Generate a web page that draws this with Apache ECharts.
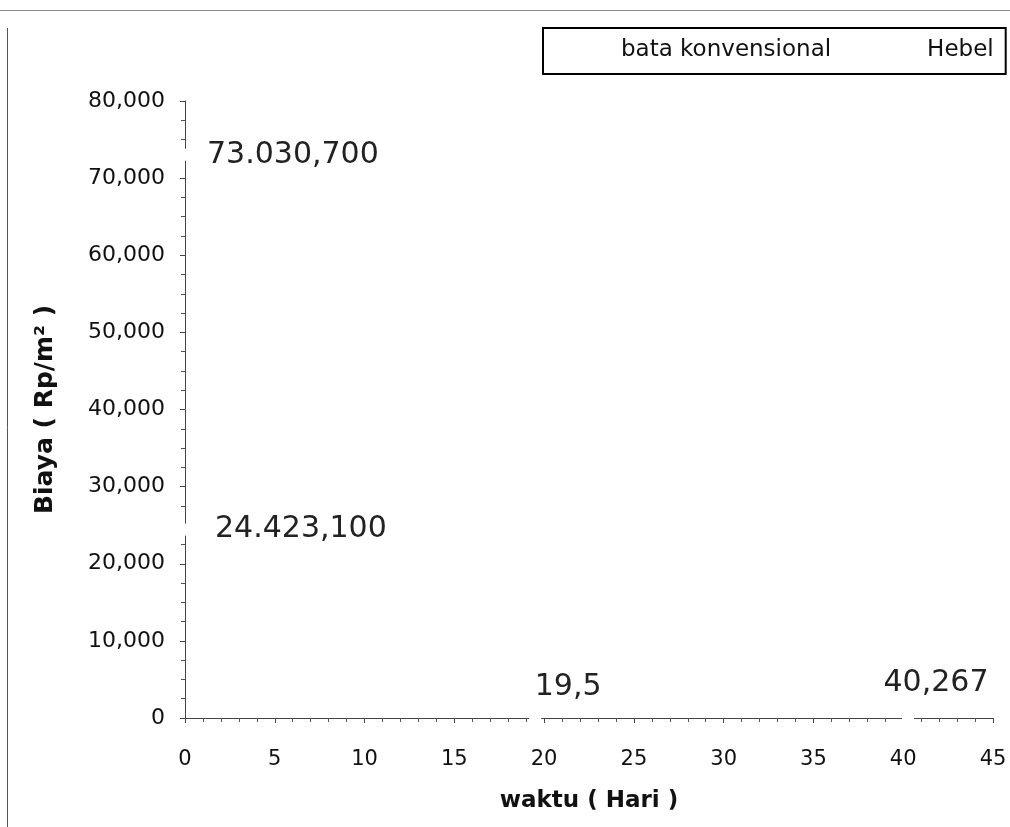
<!DOCTYPE html>
<html>
<head>
<meta charset="utf-8">
<script src="https://cdn.jsdelivr.net/npm/echarts@6/dist/echarts.min.js"></script>
<style>
html,body{margin:0;padding:0;background:#fff;}
#chart{width:1010px;height:827px;}
</style>
</head>
<body>
<div id="chart"></div>
<script>
// ---- data ----
var seriesNames = ['bata konvensional', 'Hebel'];
var bataDays = [0, 40.267];
var bataCost = [73030.7, 0];
var hebelDays = [0, 19.5];
var hebelCost = [24423.1, 0];
var yTicks = [0, 10000, 20000, 30000, 40000, 50000, 60000, 70000, 80000];
var xTicks = [0, 5, 10, 15, 20, 25, 30, 35, 40, 45];

function fmtThousands(v) {
  return String(v).replace(/\B(?=(\d{3})+(?!\d))/g, ',');
}
function fmtId(v, dec) {
  var s = v.toFixed(dec).split('.');
  var ip = s[0].replace(/\B(?=(\d{3})+(?!\d))/g, '.');
  return dec ? ip + ',' + s[1] : ip;
}
function fmtDay(v) { return String(v).replace('.', ','); }

var FONT = 'DejaVu Sans';

function buildData(xs, ys, yLabelDist, xLabelOffset) {
  return xs.map(function (x, i) {
    var y = ys[i];
    var isYIntercept = (x === 0);
    return {
      value: [x, y],
      label: isYIntercept ? {
        show: true, position: 'right', distance: yLabelDist,
        formatter: fmtId(y, 3)
      } : {
        show: true, position: 'inside', offset: xLabelOffset,
        formatter: fmtDay(x)
      }
    };
  });
}

var chart = echarts.init(document.getElementById('chart'), null, {renderer: 'canvas'});
var labelStyle = {fontFamily: FONT, fontSize: 30, color: '#222', fontWeight: 'normal'};

var option = {
  backgroundColor: '#ffffff',
  animation: false,
  grid: {left: 185, right: 17, top: 101, bottom: 109, containLabel: false},
  legend: {
    data: seriesNames,
    left: 543, top: 28,
    padding: [11, 12, 12, 50],
    itemWidth: 22, itemHeight: 14, itemGap: 68,
    borderColor: '#000', borderWidth: 2,
    textStyle: {fontFamily: FONT, fontSize: 23, color: '#111'}
  },
  xAxis: {
    type: 'value', min: xTicks[0], max: xTicks[xTicks.length - 1], interval: 5,
    axisLine: {show: true, lineStyle: {color: '#444', width: 1}},
    axisTick: {show: true, length: 5, lineStyle: {color: '#444'}},
    minorTick: {show: true, splitNumber: 5, length: 4, lineStyle: {color: '#555'}},
    splitLine: {show: false},
    axisLabel: {margin: 31, fontFamily: FONT, fontSize: 21, color: '#111'},
    name: 'waktu ( Hari )', nameLocation: 'middle', nameGap: 72,
    nameTextStyle: {fontFamily: FONT, fontSize: 23, fontWeight: 'bold', color: '#111'}
  },
  yAxis: {
    type: 'value', min: yTicks[0], max: yTicks[yTicks.length - 1], interval: 10000,
    axisLine: {show: true, lineStyle: {color: '#444', width: 1}},
    axisTick: {show: true, length: 5, lineStyle: {color: '#444'}},
    minorTick: {show: true, splitNumber: 4, length: 4, lineStyle: {color: '#555'}},
    splitLine: {show: false},
    axisLabel: {margin: 20, fontFamily: FONT, fontSize: 22, color: '#111',
      formatter: function (v) { return fmtThousands(v); }},
    name: 'Biaya ( Rp/m\u00B2 )', nameLocation: 'middle', nameGap: 127, nameRotate: 90,
    nameTextStyle: {fontFamily: FONT, fontSize: 25, fontWeight: 'bold', color: '#111'}
  },
  series: [
    {
      name: seriesNames[0], type: 'line',
      data: buildData(bataDays, bataCost, 16, [28, -35]),
      color: '#ffffff',
      symbol: 'rect', symbolSize: 12, showSymbol: true,
      itemStyle: {color: '#ffffff', borderWidth: 0},
      lineStyle: {color: '#ffffff', width: 1, opacity: 0},
      label: labelStyle, z: 5
    },
    {
      name: seriesNames[1], type: 'line',
      data: buildData(hebelDays, hebelCost, 24, [33, -31]),
      color: '#ffffff',
      symbol: 'rect', symbolSize: 12, showSymbol: true,
      itemStyle: {color: '#ffffff', borderWidth: 0},
      lineStyle: {color: '#ffffff', width: 1, opacity: 0},
      label: labelStyle, z: 5
    }
  ],
  graphic: [
    {type: 'line', shape: {x1: 0, y1: 10.5, x2: 1010, y2: 10.5}, style: {stroke: '#888', lineWidth: 1}, silent: true},
    {type: 'line', shape: {x1: 7.5, y1: 28, x2: 7.5, y2: 827}, style: {stroke: '#555', lineWidth: 1}, silent: true}
  ]
};
chart.setOption(option);
</script>
</body>
</html>
